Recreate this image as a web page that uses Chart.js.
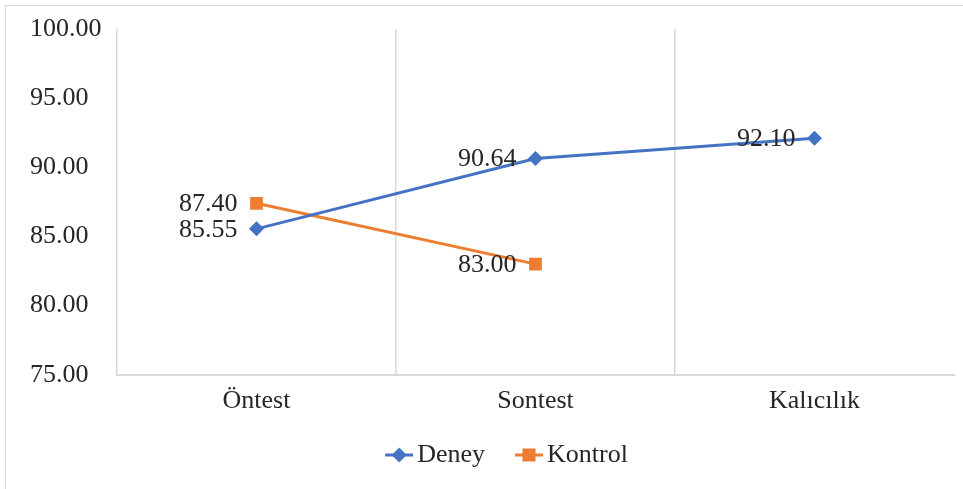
<!DOCTYPE html>
<html>
<head>
<meta charset="utf-8">
<script src="https://cdn.jsdelivr.net/npm/chart.js@4"></script>
<style>
  html, body { margin: 0; padding: 0; background: #fff; }
  #frame { position: absolute; left: 5px; top: 5px; width: 958px; height: 484px;
           border-top: 1px solid #d9d9d9; border-left: 1px solid #d9d9d9; box-sizing: border-box; }
  #wrap { position: absolute; left: 0; top: 0; width: 963px; height: 489px; }
</style>
</head>
<body>
<div id="frame"></div>
<div id="wrap"><canvas id="c" width="963" height="489"></canvas></div>
<script>
const categories = ['Öntest', 'Sontest', 'Kalıcılık'];
const deneyValues = [85.55, 90.64, 92.10];
const kontrolValues = [87.40, 83.00, null];
const yTicks = [75, 80, 85, 90, 95, 100];

const FONT = "'Liberation Serif', 'Times New Roman', serif";
const BLUE = '#4472C4';
const ORANGE = '#ED7D31';

// legend icon: blank area on the left, then a short line with the marker
function legendIcon(color, kind) {
  const blank = 25;
  const cv = document.createElement('canvas');
  cv.width = blank + 28; cv.height = 16;
  const g = cv.getContext('2d');
  g.translate(blank, 0);
  g.strokeStyle = color; g.lineWidth = 3;
  g.beginPath(); g.moveTo(0, 8); g.lineTo(28, 8); g.stroke();
  g.fillStyle = color;
  if (kind === 'diamond') {
    g.beginPath(); g.moveTo(14, 0.5); g.lineTo(21.5, 8); g.lineTo(14, 15.5); g.lineTo(6.5, 8); g.closePath(); g.fill();
  } else {
    g.fillRect(7.5, 1.5, 13, 13);
  }
  return cv;
}
const icons = [legendIcon(BLUE, 'diamond'), legendIcon(ORANGE, 'square')];

const labelPlugin = {
  id: 'valueLabels',
  afterLayout(chart) {
    if (chart.legend) { chart.legend.left += 12; }
  },
  afterDatasetsDraw(chart) {
    const ctx = chart.ctx;
    ctx.save();
    ctx.font = '26px ' + FONT;
    ctx.fillStyle = '#262626';
    ctx.textAlign = 'right';
    ctx.textBaseline = 'middle';
    chart.data.datasets.forEach((ds, di) => {
      const meta = chart.getDatasetMeta(di);
      meta.data.forEach((pt, i) => {
        const v = ds.data[i];
        if (v === null || v === undefined) return;
        ctx.fillText(v.toFixed(2), pt.x - 19, pt.y + 1);
      });
    });
    ctx.restore();
  }
};

new Chart(document.getElementById('c'), {
  type: 'line',
  data: {
    labels: categories,
    datasets: [
      {
        label: 'Deney',
        data: deneyValues,
        borderColor: BLUE,
        backgroundColor: BLUE,
        borderWidth: 3,
        pointStyle: 'rectRot',
        pointRadius: 7.5,
        pointHoverRadius: 7.5,
        pointBorderWidth: 0,
        tension: 0
      },
      {
        label: 'Kontrol',
        data: kontrolValues,
        borderColor: ORANGE,
        backgroundColor: ORANGE,
        borderWidth: 3,
        pointStyle: 'rect',
        pointRadius: 9,
        pointHoverRadius: 9,
        pointBorderWidth: 0,
        tension: 0
      }
    ]
  },
  options: {
    responsive: false,
    animation: false,
    devicePixelRatio: 1,
    layout: { padding: { top: 29, right: 8, left: 30, bottom: 11 } },
    plugins: {
      legend: {
        position: 'bottom',
        labels: {
          usePointStyle: true,
          pointStyleWidth: 35,
          boxHeight: 16,
          padding: 14,
          color: '#262626',
          font: { family: FONT, size: 26 },
          generateLabels: (chart) => {
            const items = Chart.defaults.plugins.legend.labels.generateLabels(chart);
            items.forEach((it, i) => { it.pointStyle = icons[i]; });
            return items;
          }
        }
      },
      tooltip: { enabled: false }
    },
    scales: {
      x: {
        offset: true,
        weight: 1,
        grid: { display: false, drawTicks: false },
        border: { display: true, color: '#d9d9d9', width: 2 },
        ticks: {
          padding: 11,
          color: '#262626',
          font: { family: FONT, size: 26 }
        }
      },
      // helper axis: vertical separators between the categories (no line on the right edge)
      xSep: {
        type: 'linear',
        position: 'bottom',
        weight: 0,
        min: 0,
        max: categories.length,
        afterBuildTicks: (axis) => { axis.ticks = categories.map((_, i) => ({ value: i })); },
        grid: { display: true, drawTicks: false, color: '#d9d9d9', lineWidth: 1.5 },
        border: { display: false },
        ticks: { display: false }
      },
      y: {
        min: 75,
        max: 100,
        afterBuildTicks: (axis) => { axis.ticks = yTicks.map(v => ({ value: v })); },
        afterFit: (axis) => { axis.width = 87; },
        grid: { display: false, drawTicks: false },
        border: { display: false },
        ticks: {
          crossAlign: 'far',
          padding: 8,
          color: '#262626',
          font: { family: FONT, size: 26 },
          callback: (v) => Number(v).toFixed(2)
        }
      }
    }
  },
  plugins: [labelPlugin]
});
</script>
</body>
</html>
